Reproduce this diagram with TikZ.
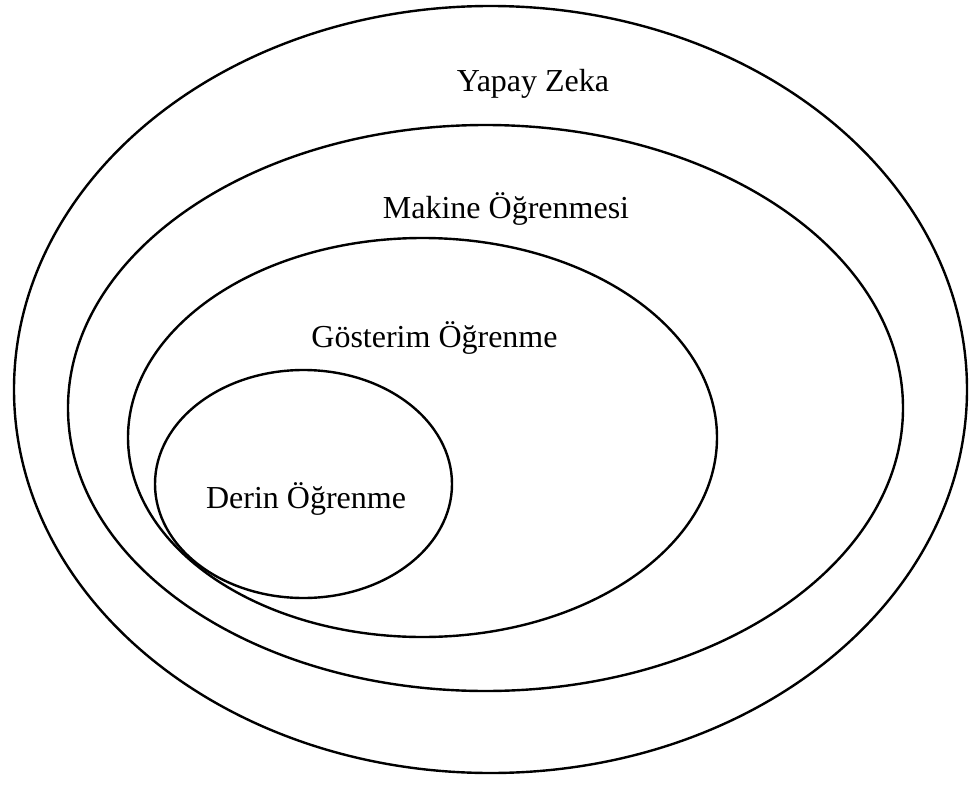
\documentclass[tikz,border=0pt]{standalone}
\usepackage{fontspec}
\setmainfont{Liberation Serif}
\usetikzlibrary{shapes.geometric}

\begin{document}
\begin{tikzpicture}[x=1pt,y=-1pt,
  ring/.style={draw,ellipse,line width=2.4pt,inner sep=0pt,outer sep=0pt},
  lbl/.style={anchor=base,inner sep=0pt,font=\fontsize{32}{38}\selectfont}]
  \useasboundingbox (0,0) rectangle (978,787);
  \node[ring,minimum width=953,minimum height=767] (yz) at (490.5,389.5) {};
  \node[ring,minimum width=835,minimum height=566] (mo) at (485.5,408) {};
  \node[ring,minimum width=589,minimum height=399] (go) at (422.5,437.5) {};
  \node[ring,minimum width=297,minimum height=228] (do) at (303.5,484) {};
  \node[lbl] (yzt) at (533,91) {Yapay Zeka};
  \node[lbl] (mot) at (506,218) {Makine Öğrenmesi};
  \node[lbl] (got) at (434.5,347) {Gösterim Öğrenme};
  \node[lbl] (dot) at (306,508) {Derin Öğrenme};
\end{tikzpicture}
\end{document}
